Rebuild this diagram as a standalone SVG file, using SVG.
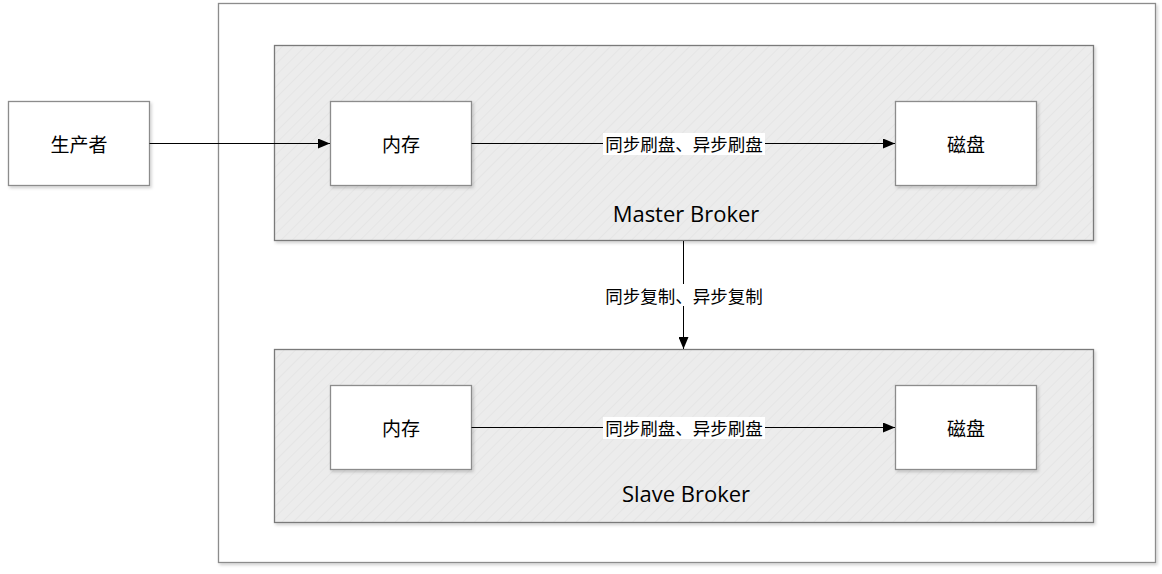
<svg xmlns="http://www.w3.org/2000/svg" width="1162" height="574" viewBox="0 0 1162 574">
<defs>
<pattern id="hatch" width="8" height="8" patternUnits="userSpaceOnUse" patternTransform="rotate(45)">
<rect width="8" height="8" fill="#ececec"/>
<line x1="0" y1="0" x2="0" y2="8" stroke="#e5e5e5" stroke-width="2"/>
</pattern>
<filter id="sh" x="-10%" y="-10%" width="130%" height="130%">
<feDropShadow dx="1.5" dy="2" stdDeviation="1.5" flood-color="#000" flood-opacity="0.18"/>
</filter>
<marker id="arr" markerWidth="12" markerHeight="10" refX="12" refY="5" orient="auto" markerUnits="userSpaceOnUse">
<path d="M0,0 L12,5 L0,10 Z" fill="#000"/>
</marker>
</defs>
<style>
.box{fill:#fff;stroke:#8c8c8c;stroke-width:1.3}
.grp{fill:url(#hatch);stroke:#7a7a7a;stroke-width:1.3}
.lbl{font-family:"Noto Sans CJK SC","Microsoft YaHei",sans-serif;font-size:19px;fill:#000;text-anchor:middle;dominant-baseline:central}
.elbl{font-family:"Noto Sans CJK SC",sans-serif;font-size:17.5px;fill:#000;text-anchor:middle;dominant-baseline:central}
.glbl{font-family:"Open Sans","Noto Sans",sans-serif;font-size:22px;fill:#000;text-anchor:middle}
.ln{stroke:#000;stroke-width:1;fill:none}
</style>
<rect width="1162" height="574" fill="#fff"/>
<g id="outer"><rect x="218.5" y="3.5" width="937" height="559" class="box" filter="url(#sh)"/></g>
<g id="master">
<rect x="274.5" y="45.5" width="819" height="195" class="grp" filter="url(#sh)"/>
<text x="686" y="222" class="glbl">Master Broker</text>
</g>
<g id="slave">
<rect x="274.5" y="349.5" width="819" height="173" class="grp" filter="url(#sh)"/>
<text x="686" y="502" class="glbl">Slave Broker</text>
</g>
<g id="producer"><rect x="8.5" y="101.5" width="141" height="84" class="box" filter="url(#sh)"/><text x="79" y="143" class="lbl">生产者</text></g>
<g id="m-mem"><rect x="330.5" y="101.5" width="141" height="84" class="box" filter="url(#sh)"/><text x="401" y="143" class="lbl">内存</text></g>
<g id="m-disk"><rect x="895.5" y="101.5" width="141" height="84" class="box" filter="url(#sh)"/><text x="966" y="143" class="lbl">磁盘</text></g>
<g id="s-mem"><rect x="330.5" y="385.5" width="141" height="84" class="box" filter="url(#sh)"/><text x="401" y="427" class="lbl">内存</text></g>
<g id="s-disk"><rect x="895.5" y="385.5" width="141" height="84" class="box" filter="url(#sh)"/><text x="966" y="427" class="lbl">磁盘</text></g>
<g id="connectors">
<line x1="149.5" y1="143.5" x2="330" y2="143.5" class="ln" marker-end="url(#arr)"/>
<line x1="471.5" y1="143.5" x2="895" y2="143.5" class="ln" marker-end="url(#arr)"/>
<rect x="603" y="133" width="162" height="22" fill="#fff"/>
<text x="684" y="143.5" class="elbl">同步刷盘、异步刷盘</text>
<line x1="471.5" y1="427.5" x2="895" y2="427.5" class="ln" marker-end="url(#arr)"/>
<rect x="603" y="417" width="162" height="22" fill="#fff"/>
<text x="684" y="427.5" class="elbl">同步刷盘、异步刷盘</text>
<line x1="683.5" y1="241" x2="683.5" y2="349" class="ln" marker-end="url(#arr)"/>
<rect x="603" y="284" width="162" height="22" fill="#fff"/>
<text x="684" y="295" class="elbl">同步复制、异步复制</text>
</g>
</svg>
